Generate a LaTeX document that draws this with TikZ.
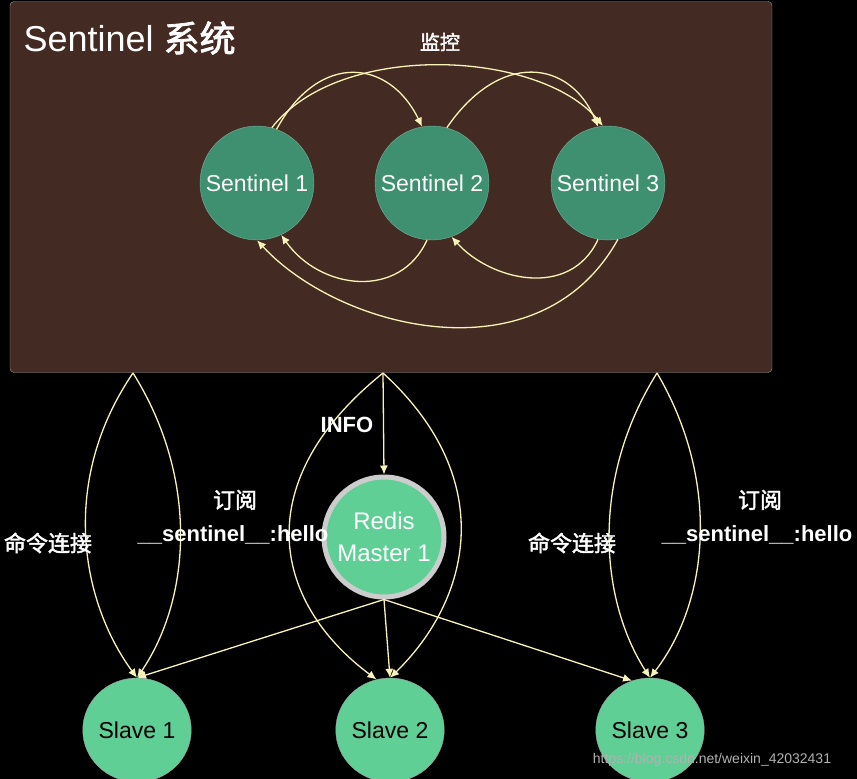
\documentclass[tikz,border=0pt]{standalone}
\usepackage{fontspec}
\setmainfont{Liberation Sans}
\newfontfamily\cjk[AutoFakeBold=2]{Noto Sans CJK SC}
\usetikzlibrary{arrows.meta,shapes.geometric}
\definecolor{boxbg}{HTML}{432A22}
\definecolor{sent}{HTML}{3E9070}
\definecolor{slv}{HTML}{5FCF95}
\definecolor{arr}{HTML}{FAF3B8}
\begin{document}
\begin{tikzpicture}[x=1pt,y=-1pt,
  con/.style={draw=arr,line width=1.3pt,-{Latex[length=9pt,width=8pt]}},
  sentc/.style={circle,fill=sent,draw=sent!70!white,minimum size=114pt,inner sep=0pt,text=white,font=\fontsize{23}{26}\selectfont},
  slave/.style={ellipse,fill=slv,draw=gray!70,minimum width=96pt,minimum height=104pt,inner sep=0pt,font=\fontsize{23}{26}\selectfont},
  lbl/.style={text=white,font=\fontsize{22}{26}\selectfont\bfseries},
  clbl/.style={text=white,font=\fontsize{22}{26}\selectfont\cjk\bfseries}]
\fill[black] (0,0) rectangle (857,779);
\useasboundingbox (0,0) rectangle (857,779);
\node[draw=gray!80,fill=boxbg,rounded corners=4pt,minimum width=762pt,minimum height=371pt,inner sep=0pt] (box) at (391,187) {};
\node[text=white,font=\fontsize{36}{40}\selectfont,anchor=west] (title) at (20,38) {Sentinel {\cjk\bfseries 系统}};
\node[sentc] (s1) at (257,183) {Sentinel 1};
\node[sentc] (s2) at (432,183) {Sentinel 2};
\node[sentc] (s3) at (608,183) {Sentinel 3};
\node[clbl,font=\fontsize{20}{24}\selectfont\cjk\bfseries] (mon) at (440,42) {监控};
\draw[con] (s1.70) .. controls (320,50) and (390,60) .. (s2.100);
\draw[con] (s2.75) .. controls (500,50) and (570,60) .. (s3.100);
\draw[con] (s1.75) .. controls (340,40) and (540,50) .. (s3.95);
\draw[con] (s2.-95) .. controls (400,300) and (320,290) .. (s1.-65);
\draw[con] (s3.-100) .. controls (570,300) and (490,280) .. (s2.-70);
\draw[con] (s3.-80) .. controls (540,380) and (340,330) .. (s1.-90);
\node[circle,fill=slv,draw=gray!40,line width=5pt,minimum size=120pt,inner sep=0pt,text=white,align=center,font=\fontsize{24}{32}\selectfont] (m) at (384,537) {Redis\\Master 1};
\node[slave] (sl1) at (137,730) {Slave 1};
\node[slave] (sl2) at (390,730) {Slave 2};
\node[slave] (sl3) at (650,730) {Slave 3};
\coordinate (b1) at (133,373);
\coordinate (b2) at (383,373);
\coordinate (b3) at (657,373);
\draw[con] (b1) .. controls (60,480) and (80,600) .. (sl1.north);
\draw[con] (b1) .. controls (200,480) and (190,600) .. (sl1.north);
\draw[con] (b2) -- (m.north);
\draw[con] (b2) .. controls (250,480) and (270,600) .. (sl2.105);
\draw[con] (b2) .. controls (500,480) and (470,600) .. (sl2.north);
\draw[con] (b3) .. controls (590,480) and (600,600) .. (sl3.north);
\draw[con] (b3) .. controls (720,480) and (710,600) .. (sl3.north);
\draw[con] (m.south) -- (sl1.north);
\draw[con] (m.south) -- (sl2.north);
\draw[con] (m.south) -- (sl3.110);
\node[lbl] (info) at (347,425) {INFO};
\node[clbl] (sub1) at (235,500) {订阅};
\node[lbl] (ch1) at (233,535) {\_\_sentinel\_\_:hello};
\node[clbl] (cmd1) at (48,543) {命令连接};
\node[clbl] (sub2) at (760,500) {订阅};
\node[lbl] (ch2) at (757,535) {\_\_sentinel\_\_:hello};
\node[clbl] (cmd2) at (572,543) {命令连接};
\node[text=gray!60,font=\fontsize{14}{16}\selectfont] (wm) at (712,760) {https://blog.csdn.net/weixin\_42032431};
\end{tikzpicture}
\end{document}
